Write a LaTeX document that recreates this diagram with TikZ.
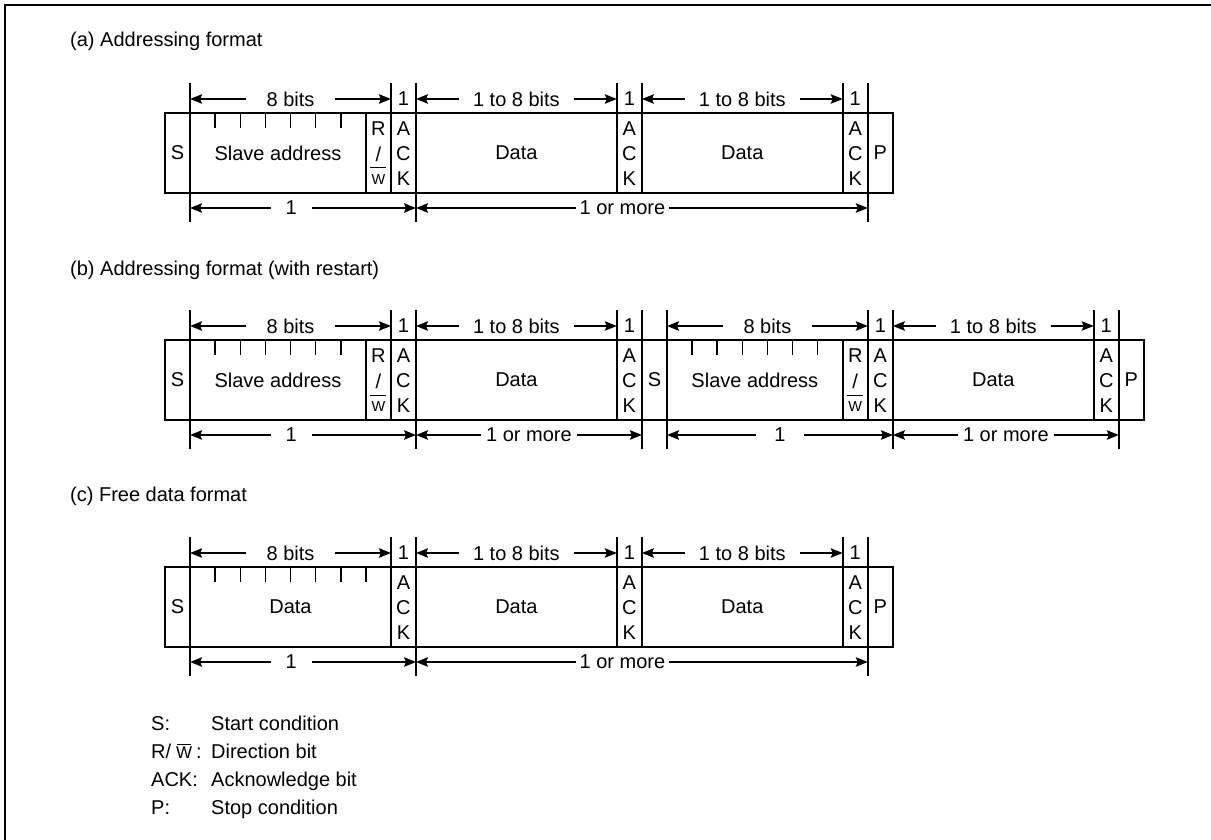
\documentclass[tikz,border=0pt]{standalone}
\usepackage{fontspec}
\setmainfont{Liberation Sans}
\usetikzlibrary{arrows.meta}
\def\W{25.1}
\newcommand\ackcol[2]{%
  \node[txt] (#1a) at ({165+\W*(#2+0.5)},129) {A};
  \node[txt] (#1c) at ({165+\W*(#2+0.5)},154) {C};
  \node[txt] (#1k) at ({165+\W*(#2+0.5)},179) {K};}
\newcommand\rwcol[2]{%
  \node[txt] (#1r) at ({165+\W*(#2+0.5)},129) {R};
  \node[txt] (#1s) at ({165+\W*(#2+0.5)},154) {/};
  \node[txt, font=\fontsize{14.5}{17}\selectfont, anchor=base] (#1w) at ({165+\W*(#2+0.5)},184.5) {W};
  \draw[line width=1pt] ({165+\W*(#2)+4.5},168) -- ({165+\W*(#2+1)-4.5},168);}
\begin{document}
\begin{tikzpicture}[x=1pt,y=-1pt,
  txt/.style={font=\fontsize{20}{24}\selectfont, inner sep=0pt},
  box/.style={line width=1.6pt},
  ext/.style={line width=1.6pt},
  dim/.style={line width=1.3pt, {Stealth[length=12pt,width=9.5pt,inset=2pt]}-{Stealth[length=12pt,width=9.5pt,inset=2pt]}},
  lab/.style={txt, fill=white, inner ysep=2pt},
]
\useasboundingbox (0,0) rectangle (1211,840);
\draw[line width=2pt] (1213,5) -- (5,5) -- (5,842);

% ---------------- (a)
\node[txt, anchor=base west] (ta) at (70,47) {(a) Addressing format};
\begin{scope}
  \draw[box] (165,113) rectangle ({165+\W*29},193);
  \foreach \i in {1,8,9,10,18,19,27,28} \draw[box] ({165+\W*\i},113) -- ({165+\W*\i},193);
  \foreach \i in {2,...,7} \draw[box] ({165+\W*\i},113) -- ({165+\W*\i},128);
  \foreach \i in {1,9,10,18,19,27,28} {
    \draw[ext] ({165+\W*\i},83) -- ({165+\W*\i},113);
    \coordinate (a-t-\i) at ({165+\W*\i},99);}
  \foreach \i in {1,10,28} {
    \draw[ext] ({165+\W*\i},193) -- ({165+\W*\i},222);
    \coordinate (a-b-\i) at ({165+\W*\i},208);}
  \node[txt] (aS) at ({165+\W*0.5},153) {S};
  \node[txt] (aSA) at ({165+\W*4.5},153) {Slave address};
  \rwcol{aRW}{8}
  \ackcol{aK1}{9}
  \node[txt] (aD1) at ({165+\W*14},153) {Data};
  \ackcol{aK2}{18}
  \node[txt] (aD2) at ({165+\W*23},153) {Data};
  \ackcol{aK3}{27}
  \node[txt] (aP) at ({165+\W*28.5},153) {P};
  \draw[dim] (a-t-1) -- node[lab, inner xsep=21pt] (al1) {8 bits} (a-t-9);
  \path (a-t-9) -- node[txt] (al2) {1} (a-t-10);
  \draw[dim] (a-t-10) -- node[lab, inner xsep=14pt] (al3) {1 to 8 bits} (a-t-18);
  \path (a-t-18) -- node[txt] (al4) {1} (a-t-19);
  \draw[dim] (a-t-19) -- node[lab, inner xsep=14pt] (al5) {1 to 8 bits} (a-t-27);
  \path (a-t-27) -- node[txt] (al6) {1} (a-t-28);
  \draw[dim] (a-b-1) -- node[lab, pos=0.447, inner xsep=15pt] (al7) {1} (a-b-10);
  \draw[dim] (a-b-10) -- node[lab, pos=0.457, inner xsep=4pt] (al8) {1 or more} (a-b-28);
\end{scope}

% ---------------- (b)
\node[txt, anchor=base west] (tb) at (70,275) {(b) Addressing format (with restart)};
\begin{scope}[yshift=-227pt]
  \draw[box] (165,113) rectangle ({165+\W*39},193);
  \foreach \i in {1,8,9,10,18,19,20,27,28,29,37,38} \draw[box] ({165+\W*\i},113) -- ({165+\W*\i},193);
  \foreach \i in {2,...,7,21,22,23,24,25,26} \draw[box] ({165+\W*\i},113) -- ({165+\W*\i},128);
  \foreach \i in {1,9,10,18,19,20,28,29,37,38} {
    \draw[ext] ({165+\W*\i},83) -- ({165+\W*\i},113);
    \coordinate (b-t-\i) at ({165+\W*\i},99);}
  \foreach \i in {1,10,19,20,29,38} {
    \draw[ext] ({165+\W*\i},193) -- ({165+\W*\i},222);
    \coordinate (b-b-\i) at ({165+\W*\i},208);}
  \node[txt] (bS1) at ({165+\W*0.5},153) {S};
  \node[txt] (bSA1) at ({165+\W*4.5},153) {Slave address};
  \rwcol{bRW1}{8}
  \ackcol{bK1}{9}
  \node[txt] (bD1) at ({165+\W*14},153) {Data};
  \ackcol{bK2}{18}
  \node[txt] (bS2) at ({165+\W*19.5},153) {S};
  \node[txt] (bSA2) at ({165+\W*23.5},153) {Slave address};
  \rwcol{bRW2}{27}
  \ackcol{bK3}{28}
  \node[txt] (bD2) at ({165+\W*33},153) {Data};
  \ackcol{bK4}{37}
  \node[txt] (bP) at ({165+\W*38.5},153) {P};
  \draw[dim] (b-t-1) -- node[lab, inner xsep=21pt] (bl1) {8 bits} (b-t-9);
  \path (b-t-9) -- node[txt] (bl2) {1} (b-t-10);
  \draw[dim] (b-t-10) -- node[lab, inner xsep=14pt] (bl3) {1 to 8 bits} (b-t-18);
  \path (b-t-18) -- node[txt] (bl4) {1} (b-t-19);
  \draw[dim] (b-t-20) -- node[lab, inner xsep=21pt] (bl5) {8 bits} (b-t-28);
  \path (b-t-28) -- node[txt] (bl6) {1} (b-t-29);
  \draw[dim] (b-t-29) -- node[lab, inner xsep=14pt] (bl7) {1 to 8 bits} (b-t-37);
  \path (b-t-37) -- node[txt] (bl8) {1} (b-t-38);
  \draw[dim] (b-b-1) -- node[lab, pos=0.447, inner xsep=15pt] (bl9) {1} (b-b-10);
  \draw[dim] (b-b-10) -- node[lab, inner xsep=5pt] (bl10) {1 or more} (b-b-19);
  \draw[dim] (b-b-20) -- node[lab, inner xsep=18pt] (bl11) {1} (b-b-29);
  \draw[dim] (b-b-29) -- node[lab, inner xsep=5pt] (bl12) {1 or more} (b-b-38);
\end{scope}

% ---------------- (c)
\node[txt, anchor=base west] (tc) at (70,501) {(c) Free data format};
\begin{scope}[yshift=-454pt]
  \draw[box] (165,113) rectangle ({165+\W*29},193);
  \foreach \i in {1,9,10,18,19,27,28} \draw[box] ({165+\W*\i},113) -- ({165+\W*\i},193);
  \foreach \i in {2,...,8} \draw[box] ({165+\W*\i},113) -- ({165+\W*\i},128);
  \foreach \i in {1,9,10,18,19,27,28} {
    \draw[ext] ({165+\W*\i},83) -- ({165+\W*\i},113);
    \coordinate (c-t-\i) at ({165+\W*\i},99);}
  \foreach \i in {1,10,28} {
    \draw[ext] ({165+\W*\i},193) -- ({165+\W*\i},222);
    \coordinate (c-b-\i) at ({165+\W*\i},208);}
  \node[txt] (cS) at ({165+\W*0.5},153) {S};
  \node[txt] (cD0) at ({165+\W*5},153) {Data};
  \ackcol{cK1}{9}
  \node[txt] (cD1) at ({165+\W*14},153) {Data};
  \ackcol{cK2}{18}
  \node[txt] (cD2) at ({165+\W*23},153) {Data};
  \ackcol{cK3}{27}
  \node[txt] (cP) at ({165+\W*28.5},153) {P};
  \draw[dim] (c-t-1) -- node[lab, inner xsep=21pt] (cl1) {8 bits} (c-t-9);
  \path (c-t-9) -- node[txt] (cl2) {1} (c-t-10);
  \draw[dim] (c-t-10) -- node[lab, inner xsep=14pt] (cl3) {1 to 8 bits} (c-t-18);
  \path (c-t-18) -- node[txt] (cl4) {1} (c-t-19);
  \draw[dim] (c-t-19) -- node[lab, inner xsep=14pt] (cl5) {1 to 8 bits} (c-t-27);
  \path (c-t-27) -- node[txt] (cl6) {1} (c-t-28);
  \draw[dim] (c-b-1) -- node[lab, pos=0.447, inner xsep=15pt] (cl7) {1} (c-b-10);
  \draw[dim] (c-b-10) -- node[lab, pos=0.457, inner xsep=4pt] (cl8) {1 or more} (c-b-28);
\end{scope}

% ---------------- legend
\node[txt, anchor=base west] (lS) at (151,730) {S:};
\node[txt, anchor=base west] (lSt) at (211,730) {Start condition};
\node[txt, anchor=base west] (lR) at (151,758) {R/};
\node[txt, anchor=base west, font=\fontsize{17}{20}\selectfont] (lW) at (176,758) {W};
\draw[line width=1pt] (177,744) -- (191,744);
\node[txt, anchor=base west] (lc) at (196,758) {:};
\node[txt, anchor=base west] (lRt) at (211,758) {Direction bit};
\node[txt, anchor=base west] (lA) at (151,786) {ACK:};
\node[txt, anchor=base west] (lAt) at (211,786) {Acknowledge bit};
\node[txt, anchor=base west] (lP) at (151,814) {P:};
\node[txt, anchor=base west] (lPt) at (211,814) {Stop condition};
\end{tikzpicture}
\end{document}
